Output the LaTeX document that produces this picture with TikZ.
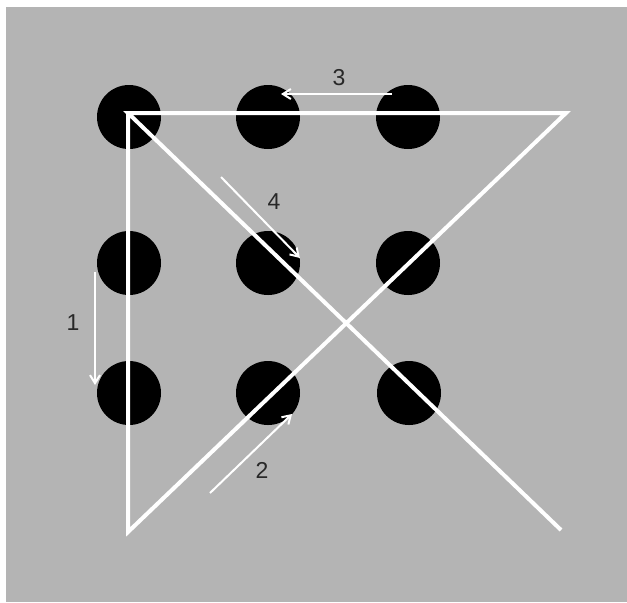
\documentclass[tikz,border=0pt]{standalone}
\usepackage{fontspec}
\setmainfont{Liberation Sans}
\usetikzlibrary{arrows.meta}
\definecolor{panelgray}{RGB}{180, 180, 180}
\definecolor{labelgray}{RGB}{40, 40, 40}

\begin{document}
\begin{tikzpicture}[
  x=0.5pt, y=-0.5pt,
  dot/.style={circle, fill=black, minimum size=32pt, inner sep=0pt},
  route/.style={white, line width=2pt, line join=miter},
  hint/.style={-{Straight Barb[length=4pt, width=5pt]}, white, line width=1pt},
  numlabel/.style={font=\fontsize{11.5}{13}\selectfont, text=labelgray, inner sep=0pt}
]

% Panel
\fill[white] (0,0) rectangle (627,602);
\fill[panelgray] (6,7) rectangle (627,602);
\useasboundingbox (0,0) rectangle (627,602);

% Nine dots
\node[dot] (d11) at (129,117) {};
\node[dot] (d12) at (268,117) {};
\node[dot] (d13) at (408,117) {};
\node[dot] (d21) at (129,263) {};
\node[dot] (d22) at (268,263) {};
\node[dot] (d23) at (408,263) {};
\node[dot] (d31) at (129,393) {};
\node[dot] (d32) at (268,393) {};
\node[dot] (d33) at (409,393) {};

% Corners of the four strokes
\coordinate (tl) at (128,113);
\coordinate (bl) at (128,532);
\coordinate (tr) at (566,113);
\coordinate (br) at (561,530);

% The four strokes
\draw[route] (tl) -- (bl) -- (tr) -- (tl) -- (br);

% Direction hints
\coordinate (h1s) at (95,272);  \coordinate (h1e) at (95,385);
\coordinate (h2s) at (210,493); \coordinate (h2e) at (292,414);
\coordinate (h3s) at (392,94);  \coordinate (h3e) at (281,94);
\coordinate (h4s) at (221,177); \coordinate (h4e) at (300,258);

\draw[hint] (h1s) -- (h1e);
\draw[hint] (h2s) -- (h2e);
\draw[hint] (h3s) -- (h3e);
\draw[hint] (h4s) -- (h4e);

% Step numbers
\node[numlabel] (n1) at (73,323)  {1};
\node[numlabel] (n2) at (262,470) {2};
\node[numlabel] (n3) at (339,78)  {3};
\node[numlabel] (n4) at (274,202) {4};

\end{tikzpicture}
\end{document}
